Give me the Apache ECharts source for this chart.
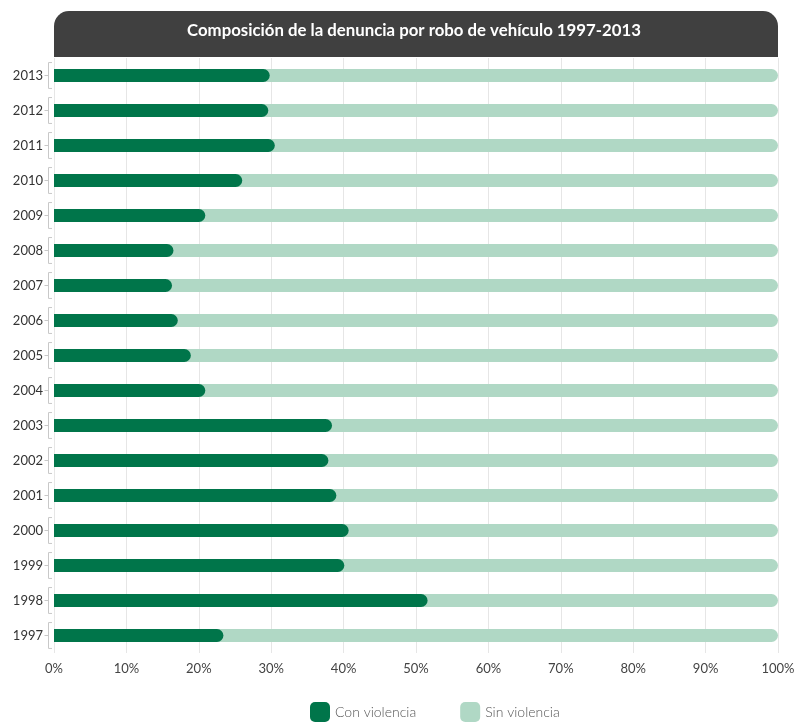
<!DOCTYPE html>
<html>
<head>
<meta charset="utf-8">
<script src="https://cdn.jsdelivr.net/npm/echarts@6/dist/echarts.min.js"></script>
<style>html,body{margin:0;padding:0;background:#fff;}#c{width:798px;height:722px;}</style>
</head>
<body>
<div id="c"></div>
<script>
const years = ['1997','1998','1999','2000','2001','2002','2003','2004','2005','2006','2007','2008','2009','2010','2011','2012','2013'];
const conViolencia = [23.4, 51.6, 40.1, 40.7, 39.0, 37.9, 38.4, 20.9, 18.9, 17.1, 16.3, 16.5, 20.9, 26.0, 30.5, 29.6, 29.8];
const sinViolencia = conViolencia.map(v => +(100 - v).toFixed(1));
const xTicks = [0,10,20,30,40,50,60,70,80,90,100];
const title = 'Composición de la denuncia por robo de vehículo 1997-2013';

const DARK = '#00754a', LIGHT = '#b0d8c5';
const chart = echarts.init(document.getElementById('c'));
chart.setOption({
  animation: false,
  textStyle: { fontFamily: 'Lato' },
  grid: { left: 54, right: 20, top: 58, bottom: 69, containLabel: false },
  graphic: [
    { type: 'rect', left: 54, top: 11, shape: { width: 724, height: 46, r: [15, 15, 0, 0] }, style: { fill: '#404040' }, z: 10 },
    { type: 'text', style: { x: 414, y: 31, text: title, fill: '#fff', font: 'bold 16.8px Lato', textAlign: 'center', textVerticalAlign: 'middle' }, z: 11 }
  ],
  xAxis: {
    type: 'value', min: 0, max: 100, interval: 10,
    axisLine: { show: false }, axisTick: { show: false },
    splitLine: { lineStyle: { color: '#e6e6e6', width: 1 } },
    axisLabel: { formatter: v => xTicks.includes(v) ? v + '%' : '', color: '#444', fontSize: 13, margin: 9 }
  },
  yAxis: {
    type: 'category', data: years,
    axisLine: { show: false }, axisTick: { show: false }, splitLine: { show: false },
    axisLabel: { color: '#333', fontSize: 13, margin: 11 }
  },
  legend: {
    top: 697, left: 305, itemWidth: 20, itemHeight: 20, itemGap: 44,
    icon: 'roundRect',
    textStyle: { color: '#555', fontSize: 14, fontFamily: 'Lato', fontWeight: 300 },
    data: ['Con violencia', 'Sin violencia']
  },
  series: [
    {
      name: 'Sin violencia', type: 'bar', barWidth: 13, barGap: '-100%',
      data: sinViolencia.map((v, i) => +(v + conViolencia[i]).toFixed(1)),
      itemStyle: { color: LIGHT, borderRadius: [0, 6.5, 6.5, 0] }, z: 2, silent: true
    },
    {
      name: 'Con violencia', type: 'bar', barWidth: 13, barGap: '-100%',
      data: conViolencia,
      itemStyle: { color: DARK, borderRadius: [0, 6.5, 6.5, 0] }, z: 3, silent: true
    },
    {
      type: 'custom', clip: false, silent: true, z: 1,
      data: years.map(y => [0, y]),
      encode: { x: 0, y: 1 },
      renderItem: function (params, api) {
        const p = api.coord([0, api.value(1)]);
        const h = api.size([0, 1])[1] * 0.37;
        const x = p[0] - 5.5, y = p[1];
        return {
          type: 'group', children: [
            { type: 'polyline', shape: { points: [[x + 3.5, y - h], [x, y - h], [x, y + h], [x + 3.5, y + h]] }, style: { stroke: '#c8c8c8', fill: null, lineWidth: 1 } },
            { type: 'line', shape: { x1: x - 4, y1: y, x2: x, y2: y }, style: { stroke: '#c8c8c8', lineWidth: 1 } }
          ]
        };
      }
    }
  ]
});
</script>
</body>
</html>
